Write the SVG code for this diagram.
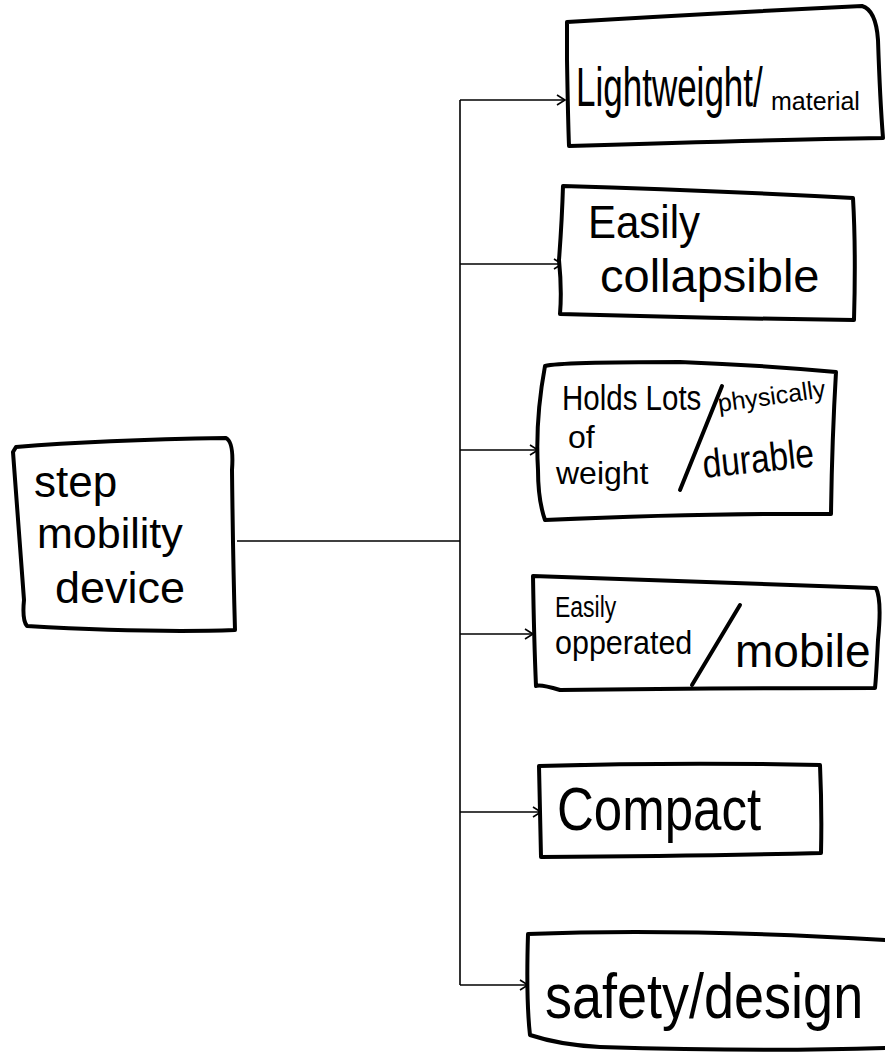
<svg xmlns="http://www.w3.org/2000/svg" width="885" height="1053" viewBox="0 0 885 1053">
<style>
.box{fill:#fff;stroke:#000;stroke-width:4;stroke-linejoin:round;stroke-linecap:round}
.t{font-family:"Liberation Sans","DejaVu Sans",sans-serif;fill:#000}
.c{fill:none;stroke:#000;stroke-width:1.6}
.sl{stroke:#000;stroke-width:4;stroke-linecap:round}
</style>
<defs>
<marker id="arr" markerWidth="12" markerHeight="12" refX="10" refY="6" orient="auto" markerUnits="userSpaceOnUse">
<path d="M2,1 L10,6 L2,11" fill="none" stroke="#000" stroke-width="1.6"/>
</marker>
</defs>
<rect width="885" height="1053" fill="#fff"/>
<g id="connectors">
<path class="c" d="M237,541 H460"/>
<path class="c" d="M460,100 V985"/>
<path class="c" d="M460,100 H565" marker-end="url(#arr)"/>
<path class="c" d="M460,264 H562" marker-end="url(#arr)"/>
<path class="c" d="M460,450 H538" marker-end="url(#arr)"/>
<path class="c" d="M460,634 H533" marker-end="url(#arr)"/>
<path class="c" d="M460,812 H541" marker-end="url(#arr)"/>
<path class="c" d="M460,985 H528" marker-end="url(#arr)"/>
</g>
<g id="n0">
<path class="box" d="M16,447 Q100,440 226,438 Q234,442 232,470 Q233,560 235,630 Q150,633 27,626 Q22,620 24,600 Q18,520 13,452 Z"/>
<text class="t" x="34" y="497" font-size="44">step</text>
<text class="t" x="37" y="548" font-size="43">mobility</text>
<text class="t" x="55" y="603" font-size="45">device</text>
</g>
<g id="n1">
<path class="box" d="M567,22 Q700,14 862,6 Q876,10 878,40 Q880,100 883,138 Q760,140 569,146 Q568,120 567,60 Z"/>
<text class="t" transform="translate(576,106) scale(1,1.6)" font-size="35">Lightweight/</text>
<text class="t" x="771" y="110" font-size="25">material</text>
</g>
<g id="n2">
<path class="box" d="M563,186 Q700,190 853,198 Q856,250 854,320 Q700,318 560,314 Q562,290 559,260 Q562,220 563,186 Z"/>
<text class="t" transform="translate(588,238) scale(1,1.1)" font-size="42">Easily</text>
<text class="t" x="600" y="292" font-size="47">collapsible</text>
</g>
<g id="n3">
<path class="box" d="M545,366 Q560,362 680,362 Q760,365 836,372 Q832,440 831,514 Q700,513 545,520 Q538,500 538,470 Q535,420 545,366 Z"/>
<text class="t" transform="translate(562,410) scale(1,1.2)" font-size="29.5">Holds Lots</text>
<text class="t" x="568" y="448" font-size="32">of</text>
<text class="t" x="556" y="484" font-size="32">weight</text>
<path class="sl" d="M680,490 L722,386"/>
<text class="t" x="719" y="412" font-size="25" transform="rotate(-8 719 412)">physically</text>
<text class="t" transform="translate(704,478) rotate(-6) scale(1,1.2)" font-size="33.5">durable</text>
</g>
<g id="n4">
<path class="box" d="M533,576 Q650,580 876,588 Q882,600 878,640 Q876,680 875,688 Q700,688 560,690 Q540,684 536,686 Q534,640 533,576 Z"/>
<text class="t" transform="translate(555,617) scale(1,1.3)" font-size="23">Easily</text>
<text class="t" transform="translate(555,654) scale(1,1.1)" font-size="30.5">opperated</text>
<path class="sl" d="M692,685 L740,605" stroke-width="3.5"/>
<text class="t" x="735" y="667" font-size="46">mobile</text>
</g>
<g id="n5">
<path class="box" d="M539,766 Q680,762 820,765 Q822,810 821,853 Q700,856 541,857 Q540,820 539,766 Z"/>
<text class="t" transform="translate(557,830) scale(1,1.2)" font-size="51">Compact</text>
</g>
<g id="n6">
<path class="box" d="M528,934 Q680,928 885,940 M885,1048 Q760,1052 600,1047 Q560,1045 530,1035 Q526,1000 528,934"/>
<text class="t" transform="translate(545,1018) scale(1,1.15)" font-size="54">safety/design</text>
</g>
</svg>
